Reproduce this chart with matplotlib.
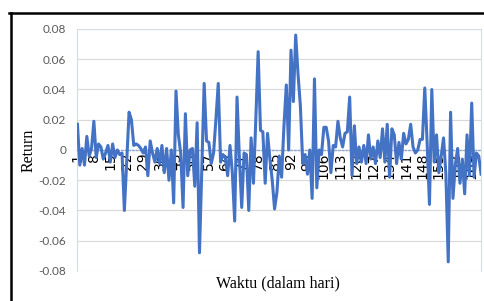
import numpy as np
import matplotlib
matplotlib.use("Agg")
import matplotlib.pyplot as plt
from matplotlib.lines import Line2D

# Return harian
hari = np.arange(1, 174)
ret = [
    0.017, -0.010, 0.001, -0.010, 0.009, -0.004, 0.001, 0.019, -0.005, 0.004,
    0.002, -0.006, -0.002, 0.003, -0.008, 0.004, -0.005, 0.000, -0.003, -0.002,
    -0.040, -0.008, 0.025, 0.020, 0.003, 0.004, 0.003, 0.001, -0.002, 0.002,
    -0.017, 0.006, -0.002, -0.008, 0.001, -0.009, 0.003, -0.015, 0.001, -0.020,
    0.000, -0.035, 0.039, 0.010, -0.002, -0.038, 0.024, -0.017, 0.000, 0.001,
    -0.024, 0.018, -0.068, -0.012, 0.044, 0.006, 0.005, -0.009, -0.002, 0.020,
    0.044, -0.008, -0.003, -0.005, -0.017, 0.003, -0.015, -0.047, 0.035, -0.005,
    -0.038, -0.002, -0.003, -0.040, 0.008, -0.022, 0.020, 0.065, 0.013, 0.012,
    -0.022, 0.011, -0.006, -0.020, -0.039, -0.028, -0.004, -0.018, 0.016, 0.043,
    0.000, 0.066, 0.032, 0.076, 0.050, 0.029, -0.009, -0.003, -0.016, 0.000,
    -0.032, 0.047, -0.025, 0.000, -0.003, 0.015, 0.015, 0.006, -0.015, 0.003,
    0.002, 0.019, 0.008, 0.002, 0.011, 0.012, 0.035, -0.017, 0.016, -0.009,
    0.002, -0.008, 0.003, -0.009, 0.010, -0.006, 0.002, -0.009, 0.006, -0.005,
    0.014, -0.008, 0.017, -0.018, 0.014, 0.010, -0.009, 0.005, -0.006, 0.011,
    0.004, 0.007, 0.017, 0.002, -0.002, 0.000, 0.007, 0.007, 0.041, 0.005,
    -0.036, 0.040, -0.008, 0.010, -0.015, -0.004, 0.008, -0.016, -0.074, 0.025,
    -0.032, -0.010, 0.001, -0.022, -0.006, -0.029, 0.010, -0.017, 0.031, -0.018,
    -0.002, -0.004, -0.016,
]

yticks = [-0.08, -0.06, -0.04, -0.02, 0, 0.02, 0.04, 0.06, 0.08]
ytick_labels = ["-0.08", "-0.06", "-0.04", "-0.02", "0", "0.02", "0.04", "0.06", "0.08"]
xticks = list(range(1, 174, 7))

fig = plt.figure(figsize=(4.84, 3.01), dpi=100)
ax = fig.add_axes([0.160, 0.0997, 0.834, 0.804])

ax.plot(hari, ret, color="#4472C4", linewidth=2.2, solid_joinstyle="round", zorder=3)

ax.set_xlim(1, 173)
ax.set_ylim(-0.08, 0.08)
ax.set_yticks(yticks)
ax.set_yticklabels(ytick_labels, fontsize=8.5, color="#595959", family="Lato")
ax.set_xticks(xticks)
ax.set_xticklabels([str(x) for x in xticks], fontsize=7.5,
                   color="#595959", family="Lato")
ax.tick_params(axis="both", length=0)
ax.tick_params(axis="x", pad=2, labelrotation=90)
ax.tick_params(axis="y", pad=8)

ax.grid(axis="y", color="#D9D9D9", linewidth=0.8)
ax.set_axisbelow(True)

# sumbu x di garis nol
ax.spines["bottom"].set_position(("data", 0))
ax.spines["bottom"].set_linestyle(":")
ax.spines["bottom"].set_color("#8FA6CF")
ax.spines["bottom"].set_linewidth(1.0)
for s in ["left", "right", "top"]:
    ax.spines[s].set_color("#D6DCE5")
    ax.spines[s].set_linewidth(0.8)

ax.set_ylabel("Return", family="Liberation Serif", fontsize=11.5)
ax.yaxis.set_label_coords(-0.100, 0.5)
fig.text(0.575, 0.057, "Waktu (dalam hari)", family="Liberation Serif",
         fontsize=11.5, ha="center", va="center")

# bingkai hitam
fig.add_artist(Line2D([0.0217, 0.0217], [0.0, 0.9575], color="black", linewidth=1.8,
                      transform=fig.transFigure))
fig.add_artist(Line2D([0.0196, 1.0], [0.9575, 0.9575], color="black", linewidth=1.8,
                      transform=fig.transFigure))

fig.savefig("out.png", dpi=100)
